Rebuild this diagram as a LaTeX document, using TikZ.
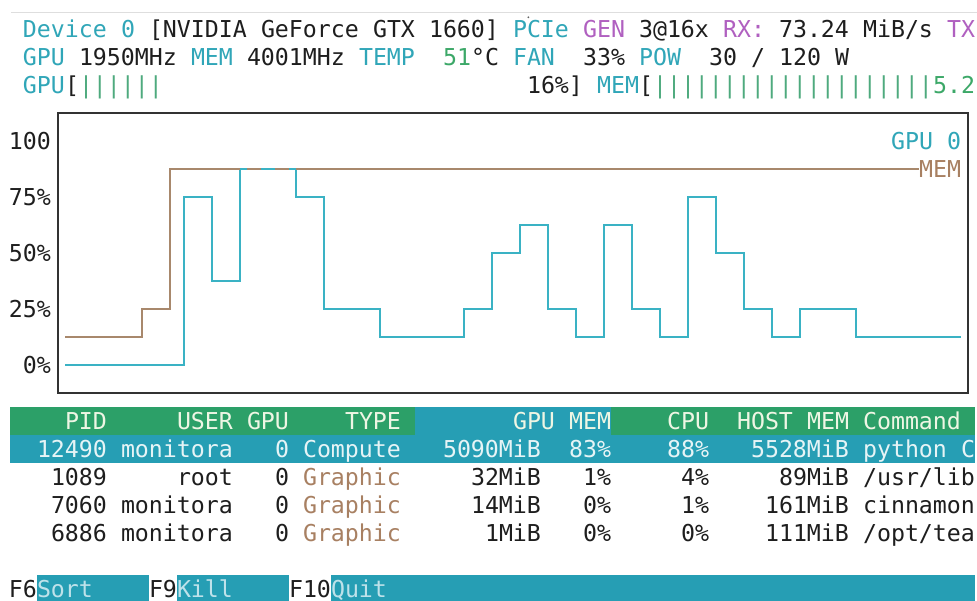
\documentclass[tikz,border=0pt]{standalone}
\usepackage{fontspec}
\newfontfamily\termfont{DejaVu Sans Mono}
\definecolor{cy}{RGB}{48,166,184}
\definecolor{pu}{RGB}{176,96,192}
\definecolor{gr}{RGB}{60,168,104}
\definecolor{dk}{RGB}{30,30,30}
\definecolor{br}{RGB}{168,128,98}
\definecolor{bar}{RGB}{78,170,126}
\definecolor{memline}{RGB}{168,136,108}
\definecolor{gpuline}{RGB}{58,178,196}
\definecolor{boxc}{RGB}{50,50,50}
\definecolor{hdgreen}{RGB}{44,160,104}
\definecolor{hdteal}{RGB}{38,158,180}
\definecolor{hdtext}{RGB}{238,246,228}
\definecolor{seltext}{RGB}{230,244,246}
\definecolor{fktext}{RGB}{190,226,234}
\definecolor{sepgray}{RGB}{222,222,222}
\newcommand\tk[4]{\node[tok,text=#3] (n#2x#1) at ({9+14*#1},{29+28*#2+8.3}) {#4};}
\begin{document}
\begin{tikzpicture}[x=1pt,y=-1pt,
  tok/.style={anchor=base west,inner sep=0pt,outer sep=0pt,font={\termfont\fontsize{23.25}{28}\selectfont}},
  gpu/.style={draw=gpuline,line width=2pt},
  mem/.style={draw=memline,line width=2pt},
  band/.style={line width=0pt}]
\useasboundingbox (0,0) rectangle (977,601);
\fill[white] (0,0) rectangle (977,601);
% top separator
\draw[sepgray,line width=1.5pt] (11,12.5) -- (977,12.5);
\fill[dk!70] (528.3,17.3) circle (1pt);
% ---- row 0
\tk{1}{0}{cy}{Device}\tk{8}{0}{cy}{0}\tk{10}{0}{dk}{[NVIDIA}\tk{18}{0}{dk}{GeForce}
\tk{26}{0}{dk}{GTX}\tk{30}{0}{dk}{1660]}\tk{36}{0}{cy}{PCIe}\tk{41}{0}{pu}{GEN}
\tk{45}{0}{dk}{3@16x}\tk{51}{0}{pu}{RX:}\tk{55}{0}{dk}{73.24}\tk{61}{0}{dk}{MiB/s}\tk{67}{0}{pu}{TX}
% ---- row 1
\tk{1}{1}{cy}{GPU}\tk{5}{1}{dk}{1950MHz}\tk{13}{1}{cy}{MEM}\tk{17}{1}{dk}{4001MHz}
\tk{25}{1}{cy}{TEMP}\tk{31}{1}{gr}{51}\tk{33}{1}{dk}{°C}\tk{36}{1}{cy}{FAN}\tk{41}{1}{dk}{33\%}
\tk{45}{1}{cy}{POW}\tk{50}{1}{dk}{30}\tk{53}{1}{dk}{/}\tk{55}{1}{dk}{120}\tk{59}{1}{dk}{W}
% ---- row 2
\tk{1}{2}{cy}{GPU}\tk{4}{2}{dk}{[}\tk{5}{2}{bar}{||||||}\tk{37}{2}{dk}{16\%]}
\tk{42}{2}{cy}{MEM}\tk{45}{2}{dk}{[}\tk{46}{2}{bar}{||||||||||||||||||||}\tk{66}{2}{gr}{5.2}
% ---- chart
\draw[boxc,line width=2.2pt] (58,113) rectangle (968,393);
\tk{0}{4}{dk}{100}\tk{0}{6}{dk}{75\%}\tk{0}{8}{dk}{50\%}\tk{0}{10}{dk}{25\%}\tk{1}{12}{dk}{0\%}
\tk{63}{4}{cy}{GPU}\tk{67}{4}{cy}{0}\tk{65}{5}{br}{MEM}
\coordinate (g0) at (65,365);
\coordinate (g1) at (961,337);
\coordinate (m0) at (65,337);
\coordinate (m1) at (919,169);
\draw[gpu] (g0) -- (184,365) -- (184,197) -- (212,197) -- (212,281) -- (240,281) -- (240,169)
  -- (296,169) -- (296,197) -- (324,197) -- (324,309) -- (380,309) -- (380,337)
  -- (464,337) -- (464,309) -- (492,309) -- (492,253) -- (520,253) -- (520,225)
  -- (548,225) -- (548,309) -- (576,309) -- (576,337) -- (604,337) -- (604,225)
  -- (632,225) -- (632,309) -- (660,309) -- (660,337) -- (688,337) -- (688,197)
  -- (716,197) -- (716,253) -- (744,253) -- (744,309) -- (772,309) -- (772,337)
  -- (800,337) -- (800,309) -- (856,309) -- (856,337) -- (g1);
\draw[mem] (m0) -- (142,337) -- (142,309) -- (170,309) -- (170,169) -- (m1);
\draw[gpu] (240,169) -- (247,169) (261,169) -- (275,169) (289,169) -- (296,169);
% ---- table bands
\fill[hdgreen] (10,407) rectangle (415,435);
\fill[hdteal] (415,407) rectangle (611,435);
\fill[hdgreen] (611,407) rectangle (975,435);
\fill[hdteal] (10,435) rectangle (975,463);
\fill[hdteal] (37,575) rectangle (149,601);
\fill[hdteal] (177,575) rectangle (289,601);
\fill[hdteal] (331,575) rectangle (975,601);
% header
\tk{4}{14}{hdtext}{PID}\tk{12}{14}{hdtext}{USER}\tk{17}{14}{hdtext}{GPU}\tk{24}{14}{hdtext}{TYPE}
\tk{36}{14}{hdtext}{GPU}\tk{40}{14}{hdtext}{MEM}\tk{47}{14}{hdtext}{CPU}\tk{52}{14}{hdtext}{HOST}
\tk{57}{14}{hdtext}{MEM}\tk{61}{14}{hdtext}{Command}
% selected row
\tk{2}{15}{seltext}{12490}\tk{8}{15}{seltext}{monitora}\tk{19}{15}{seltext}{0}\tk{21}{15}{seltext}{Compute}
\tk{31}{15}{seltext}{5090MiB}\tk{40}{15}{seltext}{83\%}\tk{47}{15}{seltext}{88\%}
\tk{53}{15}{seltext}{5528MiB}\tk{61}{15}{seltext}{python}\tk{68}{15}{seltext}{C}
% rows
\tk{3}{16}{dk}{1089}\tk{12}{16}{dk}{root}\tk{19}{16}{dk}{0}\tk{21}{16}{br}{Graphic}
\tk{33}{16}{dk}{32MiB}\tk{41}{16}{dk}{1\%}\tk{48}{16}{dk}{4\%}\tk{55}{16}{dk}{89MiB}\tk{61}{16}{dk}{/usr/lib}
\tk{3}{17}{dk}{7060}\tk{8}{17}{dk}{monitora}\tk{19}{17}{dk}{0}\tk{21}{17}{br}{Graphic}
\tk{33}{17}{dk}{14MiB}\tk{41}{17}{dk}{0\%}\tk{48}{17}{dk}{1\%}\tk{54}{17}{dk}{161MiB}\tk{61}{17}{dk}{cinnamon}
\tk{3}{18}{dk}{6886}\tk{8}{18}{dk}{monitora}\tk{19}{18}{dk}{0}\tk{21}{18}{br}{Graphic}
\tk{34}{18}{dk}{1MiB}\tk{41}{18}{dk}{0\%}\tk{48}{18}{dk}{0\%}\tk{54}{18}{dk}{111MiB}\tk{61}{18}{dk}{/opt/tea}
% function keys
\tk{0}{20}{dk}{F6}\tk{2}{20}{fktext}{Sort}\tk{10}{20}{dk}{F9}\tk{12}{20}{fktext}{Kill}
\tk{20}{20}{dk}{F10}\tk{23}{20}{fktext}{Quit}
\end{tikzpicture}
\end{document}
